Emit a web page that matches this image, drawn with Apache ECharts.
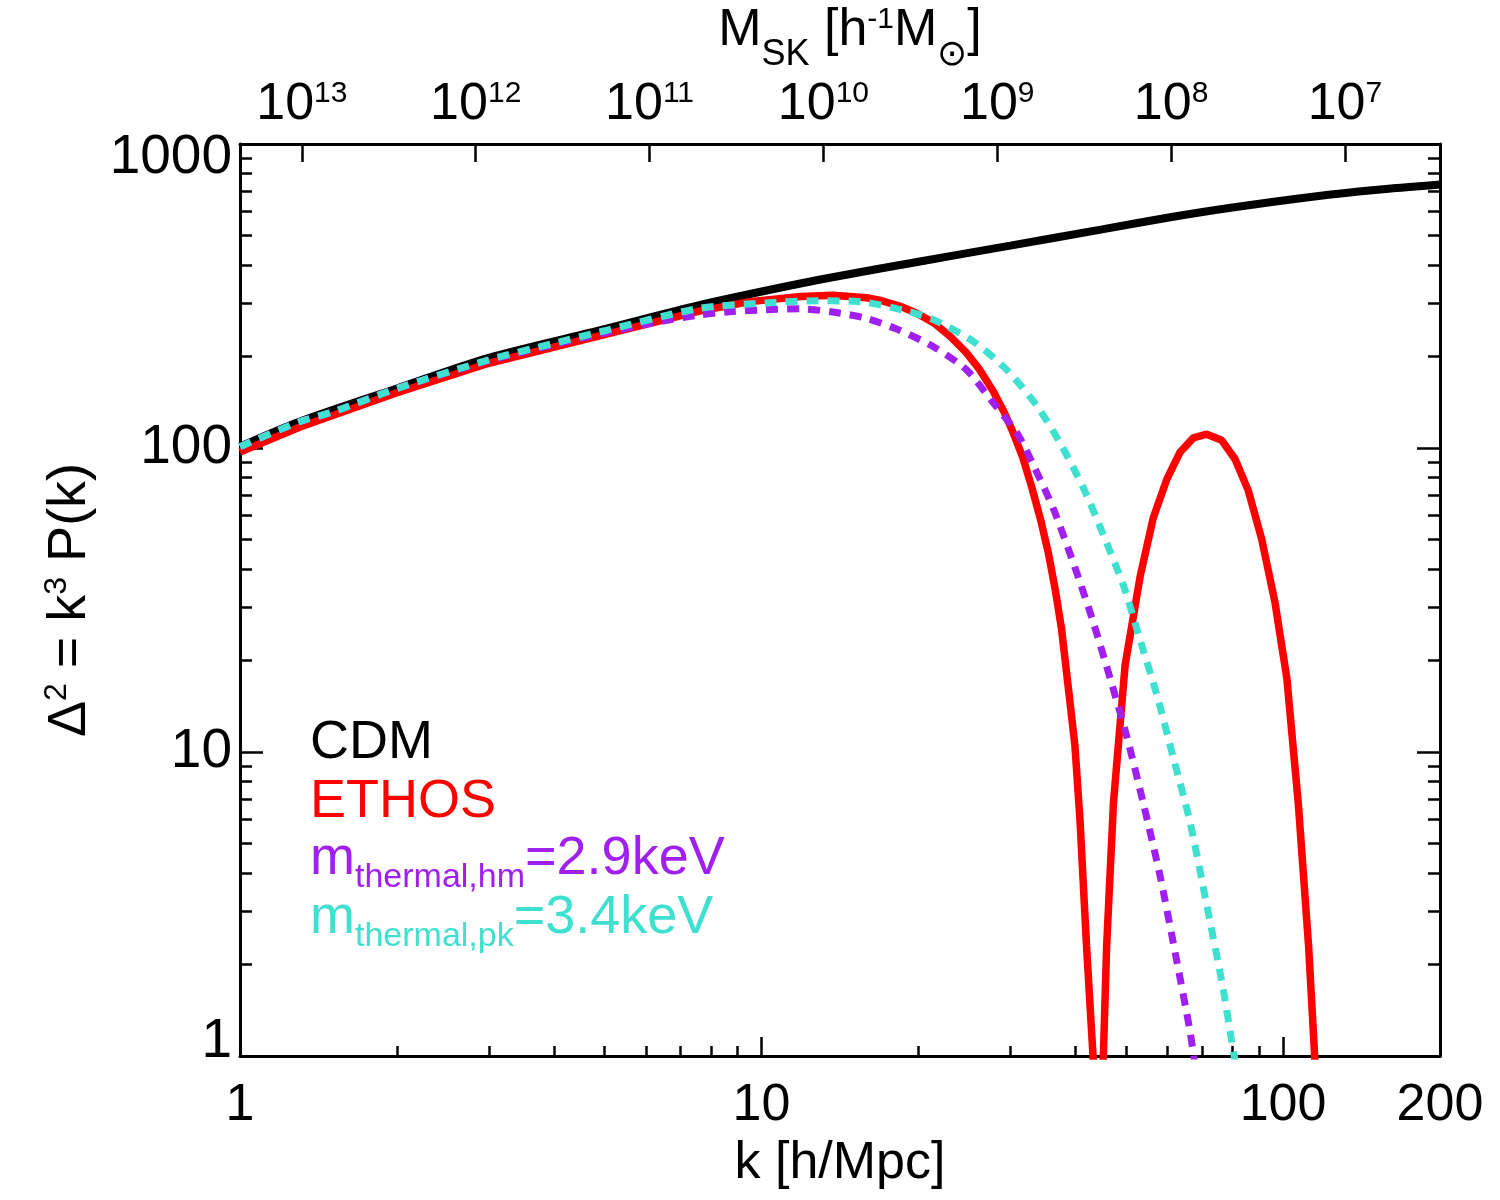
<!DOCTYPE html>
<html>
<head>
<meta charset="utf-8">
<title>Delta^2 = k^3 P(k)</title>
<script src="https://cdn.jsdelivr.net/npm/echarts@6/dist/echarts.min.js"></script>
<style>
  html, body { margin: 0; padding: 0; background: #fff; }
  #chart { width: 1500px; height: 1200px; }
</style>
</head>
<body>
<div id="chart"></div>
<script>
// k [h/Mpc] and Delta^2
const kCdm = [1, 1.3, 2, 3, 5, 7.6, 12, 14.1, 20, 30, 45, 60, 80, 115, 150, 200];
const dCdm = [101, 122, 157, 198, 246, 295, 349, 368, 410, 463, 524, 572, 618, 672, 706, 736];

const kEthos = [1, 1.3, 2, 3, 5, 7.6, 9.5, 11.9, 13.7, 15.9, 17, 18.4, 19.8, 21.4, 23, 24.7, 26.2, 27.8, 29.2, 30.4,
  31.7, 33, 34.3, 35.5, 36.6, 37.6, 38.8, 39.9, 40.8, 42, 43.3, 44.2, 45.2, 45.9, 47.3, 49.8, 53.2, 56.4, 59.8, 63.4,
  67.3, 71.4, 76.3, 80.9, 85.8, 91, 96.5, 101.7, 107, 112, 115, 117];
const dEthos = [97, 117, 152, 190, 236, 282, 303, 315, 318, 312, 305, 293, 278, 258, 233, 206, 181, 154, 131, 112,
  93, 74, 58, 45, 34, 25.5, 16, 10.5, 6, 2.3, 0.95, 0.25, 0.95, 2.3, 6.8, 19.3, 37.7, 59, 78.5, 96.6,
  108, 111, 106, 92, 72.4, 50.2, 31.1, 17.5, 6.75, 2.28, 1, 0.4];

const kHm = [1, 1.3, 1.5, 2, 3, 4, 5, 6.2, 7.6, 8.8, 10.2, 11.9, 13.7, 15.9, 18.4, 21.4, 24.7, 27.8, 30.9, 33.2,
  36.3, 40.2, 43.3, 46.6, 50.2, 54, 58.1, 62.5, 66.3, 68];
const dHm = [101, 122, 131, 157, 194, 219, 239, 258, 274, 281, 285, 287, 280, 267, 244, 215, 181, 141, 112, 88,
  63, 39, 26.6, 17.5, 11.2, 6.75, 3.92, 2.07, 1.21, 0.9];

const kPk = [1, 1.3, 1.5, 2, 3, 4, 5, 7.6, 10.2, 12.8, 15.45, 19, 21.4, 25.5, 29.5, 33.7, 37.6, 41.4, 45.2, 49.4,
  53.2, 57.3, 61.6, 66.3, 71.4, 76.8, 79.7, 82];
const dPk = [101, 122, 131, 157, 195, 221, 243, 288, 300, 305, 303, 282, 264, 224, 181, 138, 102, 74, 52, 35.4,
  23.4, 15.4, 9.6, 5.9, 3.14, 1.66, 1.12, 0.85];

// axis ticks and labels
const kMajor = [1, 10, 100];
const kMinor = [2, 3, 4, 5, 6, 7, 8, 9, 20, 30, 40, 50, 60, 70, 80, 90];
const kLabels = [1, 10, 100, 200];
const dMajor = [1, 10, 100, 1000];
const dMinor = [2, 3, 4, 5, 6, 7, 8, 9, 20, 30, 40, 50, 60, 70, 80, 90, 200, 300, 400, 500, 600, 700, 800, 900];
const massExp = [13, 12, 11, 10, 9, 8, 7];
const logMassAtK1 = 13.356; // log10 M_SK at k = 1 h/Mpc, M ~ k^-3

const font = "'Liberation Sans', Arial, Helvetica, sans-serif";
const black = '#000';

const massTickK = massExp.map(e => Math.pow(10, (logMassAtK1 - e) / 3));

function pairs(ks, vs) {
  return ks.map((k, i) => [k, vs[i]]);
}

const chart = echarts.init(document.getElementById('chart'));

const tickLine = { color: black, width: 2.5 };
const frameLine = { show: true, onZero: false, lineStyle: { color: black, width: 3 } };

// main text sits at line top, subscripts hang from a taller line bottom
function legendRich(color) {
  return {
    m: { fontFamily: font, fontSize: 54, lineHeight: 54, verticalAlign: 'top', fill: color },
    d: { fontFamily: font, fontSize: 34, lineHeight: 63, verticalAlign: 'bottom', fill: color }
  };
}

const option = {
  animation: false,
  backgroundColor: '#fff',
  grid: { left: 240, right: 60, top: 144, bottom: 144, outerBoundsMode: 'none' },
  xAxis: [
    {
      type: 'log', logBase: 10, min: 1, max: 200, position: 'bottom',
      axisLine: frameLine,
      axisTick: { show: true, inside: true, length: 19, lineStyle: tickLine, customValues: kMajor },
      axisLabel: {
        show: true, customValues: kLabels, margin: 24, color: black,
        fontFamily: font, fontSize: 52, lineHeight: 52,
        formatter: v => String(Math.round(v))
      },
      splitLine: { show: false },
      name: 'k [h/Mpc]', nameLocation: 'middle', nameGap: 82,
      nameTextStyle: { color: black, fontFamily: font, fontSize: 52, lineHeight: 52 }
    },
    {
      type: 'log', logBase: 10, min: 1, max: 200, position: 'bottom',
      axisLine: { show: false },
      axisTick: { show: true, inside: true, length: 10, lineStyle: tickLine, customValues: kMinor },
      axisLabel: { show: false },
      splitLine: { show: false }
    },
    {
      type: 'log', logBase: 10, min: 1, max: 200, position: 'top',
      axisLine: frameLine,
      axisTick: { show: true, inside: true, length: 18, lineStyle: tickLine, customValues: massTickK },
      axisLabel: {
        show: true, customValues: massTickK, margin: 11, color: black, fontFamily: font,
        formatter: v => '{b|10}{s|' + Math.round(logMassAtK1 - 3 * Math.log10(v)) + '}',
        rich: {
          b: { fontFamily: font, fontSize: 52, lineHeight: 54, verticalAlign: 'top', color: black },
          s: { fontFamily: font, fontSize: 30, lineHeight: 30, verticalAlign: 'top', color: black }
        }
      },
      splitLine: { show: false }
    }
  ],
  yAxis: [
    {
      type: 'log', logBase: 10, min: 1, max: 1000, position: 'left',
      axisLine: frameLine,
      axisTick: { show: true, inside: true, length: 23, lineStyle: tickLine, customValues: dMajor },
      axisLabel: {
        show: true, customValues: dMajor, margin: 8, color: black,
        fontFamily: font, fontSize: 55, lineHeight: 28,
        verticalAlignMinLabel: 'bottom', verticalAlignMaxLabel: 'top',
        formatter: v => String(Math.round(v))
      },
      splitLine: { show: false },
      name: '\u0394{s|2} = k{s|3} P(k)', nameLocation: 'middle', nameGap: 188,
      nameTextStyle: {
        color: black, fontFamily: font, fontSize: 54,
        rich: {
          s: { fontFamily: font, fontSize: 32, lineHeight: 6, verticalAlign: 'top', color: black }
        },
        lineHeight: 58, verticalAlign: 'top'
      }
    },
    {
      type: 'log', logBase: 10, min: 1, max: 1000, position: 'left',
      axisLine: { show: false },
      axisTick: { show: true, inside: true, length: 12, lineStyle: tickLine, customValues: dMinor },
      axisLabel: { show: false },
      splitLine: { show: false }
    },
    {
      type: 'log', logBase: 10, min: 1, max: 1000, position: 'right',
      axisLine: frameLine,
      axisTick: { show: true, inside: true, length: 23, lineStyle: tickLine, customValues: dMajor },
      axisLabel: { show: false },
      splitLine: { show: false }
    },
    {
      type: 'log', logBase: 10, min: 1, max: 1000, position: 'right',
      axisLine: { show: false },
      axisTick: { show: true, inside: true, length: 12, lineStyle: tickLine, customValues: dMinor },
      axisLabel: { show: false },
      splitLine: { show: false }
    }
  ],
  series: [
    {
      name: 'CDM', type: 'line', xAxisIndex: 0, yAxisIndex: 0, showSymbol: false, smooth: 0.3, clip: true,
      lineStyle: { color: black, width: 8 }, data: pairs(kCdm, dCdm)
    },
    {
      name: 'ETHOS', type: 'line', xAxisIndex: 0, yAxisIndex: 0, showSymbol: false, clip: true,
      lineStyle: { color: '#ff0000', width: 7.5 }, data: pairs(kEthos, dEthos)
    },
    {
      name: 'hm', type: 'line', xAxisIndex: 0, yAxisIndex: 0, showSymbol: false, smooth: 0.25, clip: true,
      lineStyle: { color: '#a020f0', width: 7, type: [12, 9] }, data: pairs(kHm, dHm)
    },
    {
      name: 'pk', type: 'line', xAxisIndex: 0, yAxisIndex: 0, showSymbol: false, smooth: 0.25, clip: true,
      lineStyle: { color: '#40e0d0', width: 7, type: [12, 9] }, data: pairs(kPk, dPk)
    }
  ],
  graphic: [
    {
      type: 'text', x: 850, y: 5, silent: true,
      style: {
        text: '{m|M}{d|SK}{m| [h}{u|-1}{m|M}{d|\u2299}{m|]}',
        align: 'center', verticalAlign: 'top',
        rich: {
          m: { fontFamily: font, fontSize: 52, lineHeight: 54, verticalAlign: 'top', fill: black },
          d: { fontFamily: font, fontSize: 36, lineHeight: 68, verticalAlign: 'bottom', fill: black },
          u: { fontFamily: font, fontSize: 30, lineHeight: 30, verticalAlign: 'top', fill: black }
        }
      }
    },
    {
      type: 'text', x: 310, y: 716, silent: true,
      style: { text: '{m|CDM}', verticalAlign: 'top', rich: legendRich(black) }
    },
    {
      type: 'text', x: 310, y: 775, silent: true,
      style: { text: '{m|ETHOS}', verticalAlign: 'top', rich: legendRich('#ff0000') }
    },
    {
      type: 'text', x: 310, y: 832, silent: true,
      style: { text: '{m|m}{d|thermal,hm}{m|=2.9keV}', verticalAlign: 'top', rich: legendRich('#a020f0') }
    },
    {
      type: 'text', x: 310, y: 891, silent: true,
      style: { text: '{m|m}{d|thermal,pk}{m|=3.4keV}', verticalAlign: 'top', rich: legendRich('#40e0d0') }
    }
  ]
};

chart.setOption(option);
</script>
</body>
</html>
